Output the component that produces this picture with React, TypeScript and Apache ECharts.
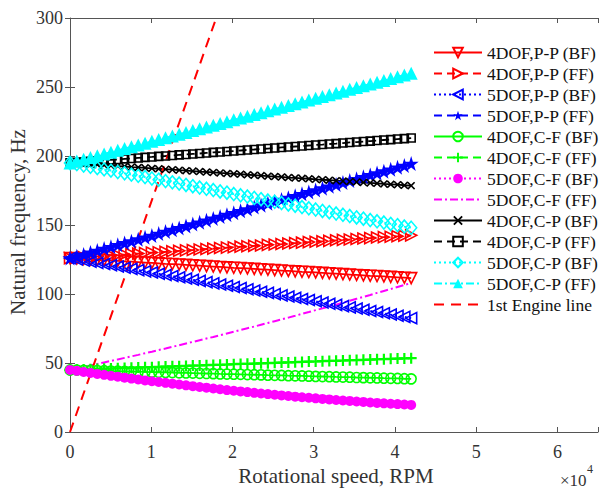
import React, { useEffect, useRef } from "react";
import * as echarts from "echarts";

// Rotational speed (RPM)
const rpm = [0, 840, 1680, 2520, 3360, 4200, 5040, 5880, 6720, 7560, 8400, 9240, 10080, 10920, 11760, 12600, 13440, 14280, 15120, 15960, 16800, 17640, 18480, 19320, 20160, 21000, 21840, 22680, 23520, 24360, 25200, 26040, 26880, 27720, 28560, 29400, 30240, 31080, 31920, 32760, 33600, 34440, 35280, 36120, 36960, 37800, 38640, 39480, 40320, 41160, 42000];

const pp4BF = [126.0, 125.7, 125.4, 125.1, 124.8, 124.6, 124.3, 124.0, 123.7, 123.4, 123.1, 122.8, 122.5, 122.2, 121.9, 121.7, 121.4, 121.1, 120.8, 120.5, 120.2, 119.9, 119.6, 119.3, 119.0, 118.8, 118.5, 118.2, 117.9, 117.6, 117.3, 117.0, 116.7, 116.4, 116.1, 115.9, 115.6, 115.3, 115.0, 114.7, 114.4, 114.1, 113.8, 113.5, 113.2, 113.0, 112.7, 112.4, 112.1, 111.8, 111.5];
const pp4FF = [126.0, 126.3, 126.7, 127.0, 127.3, 127.7, 128.0, 128.3, 128.6, 129.0, 129.3, 129.6, 130.0, 130.3, 130.6, 131.0, 131.3, 131.6, 131.9, 132.3, 132.6, 132.9, 133.3, 133.6, 133.9, 134.3, 134.6, 134.9, 135.2, 135.6, 135.9, 136.2, 136.6, 136.9, 137.2, 137.6, 137.9, 138.2, 138.5, 138.9, 139.2, 139.5, 139.9, 140.2, 140.5, 140.9, 141.2, 141.5, 141.8, 142.2, 142.5];
const pp5BF = [126.0, 125.1, 124.3, 123.4, 122.5, 121.7, 120.8, 119.9, 119.0, 118.2, 117.3, 116.4, 115.6, 114.7, 113.8, 113.0, 112.1, 111.2, 110.3, 109.5, 108.6, 107.7, 106.9, 106.0, 105.1, 104.3, 103.4, 102.5, 101.6, 100.8, 99.9, 99.0, 98.2, 97.3, 96.4, 95.6, 94.7, 93.8, 92.9, 92.1, 91.2, 90.3, 89.5, 88.6, 87.7, 86.9, 86.0, 85.1, 84.2, 83.4, 82.5];
const pp5FF = [126.0, 127.4, 128.7, 130.1, 131.5, 132.9, 134.2, 135.6, 137.0, 138.3, 139.7, 141.1, 142.4, 143.8, 145.2, 146.6, 147.9, 149.3, 150.7, 152.0, 153.4, 154.8, 156.1, 157.5, 158.9, 160.3, 161.6, 163.0, 164.4, 165.7, 167.1, 168.5, 169.8, 171.2, 172.6, 174.0, 175.3, 176.7, 178.1, 179.4, 180.8, 182.2, 183.5, 184.9, 186.3, 187.7, 189.0, 190.4, 191.8, 193.1, 194.5];
const cf4BF = [45.0, 44.9, 44.7, 44.6, 44.5, 44.4, 44.2, 44.1, 44.0, 43.8, 43.7, 43.6, 43.4, 43.3, 43.2, 43.1, 42.9, 42.8, 42.7, 42.5, 42.4, 42.3, 42.1, 42.0, 41.9, 41.8, 41.6, 41.5, 41.4, 41.2, 41.1, 41.0, 40.8, 40.7, 40.6, 40.5, 40.3, 40.2, 40.1, 39.9, 39.8, 39.7, 39.5, 39.4, 39.3, 39.2, 39.0, 38.9, 38.8, 38.6, 38.5];
const cf4FF = [45.0, 45.2, 45.3, 45.5, 45.7, 45.9, 46.0, 46.2, 46.4, 46.5, 46.7, 46.9, 47.0, 47.2, 47.4, 47.6, 47.7, 47.9, 48.1, 48.2, 48.4, 48.6, 48.7, 48.9, 49.1, 49.3, 49.4, 49.6, 49.8, 49.9, 50.1, 50.3, 50.4, 50.6, 50.8, 51.0, 51.1, 51.3, 51.5, 51.6, 51.8, 52.0, 52.1, 52.3, 52.5, 52.7, 52.8, 53.0, 53.2, 53.3, 53.5];
const cf5BF = [45.0, 44.3, 43.5, 42.8, 42.1, 41.4, 40.7, 40.1, 39.4, 38.7, 38.1, 37.4, 36.8, 36.2, 35.6, 35.0, 34.4, 33.8, 33.2, 32.6, 32.1, 31.5, 31.0, 30.4, 29.9, 29.4, 28.9, 28.4, 27.9, 27.5, 27.0, 26.5, 26.1, 25.6, 25.2, 24.8, 24.4, 24.0, 23.6, 23.2, 22.8, 22.5, 22.1, 21.8, 21.4, 21.1, 20.8, 20.5, 20.2, 19.9, 19.6];
const cf5FF = [45.0, 46.1, 47.1, 48.2, 49.3, 50.4, 51.5, 52.6, 53.7, 54.8, 55.9, 57.1, 58.2, 59.4, 60.5, 61.7, 62.9, 64.1, 65.3, 66.5, 67.7, 68.9, 70.2, 71.4, 72.6, 73.9, 75.2, 76.4, 77.7, 79.0, 80.3, 81.6, 82.9, 84.2, 85.6, 86.9, 88.3, 89.6, 91.0, 92.3, 93.7, 95.1, 96.5, 97.9, 99.3, 100.8, 102.2, 103.6, 105.1, 106.5, 108.0];
const cp4BF = [195.0, 194.7, 194.3, 194.0, 193.7, 193.4, 193.0, 192.7, 192.4, 192.0, 191.7, 191.4, 191.0, 190.7, 190.4, 190.1, 189.7, 189.4, 189.1, 188.7, 188.4, 188.1, 187.7, 187.4, 187.1, 186.8, 186.4, 186.1, 185.8, 185.4, 185.1, 184.8, 184.4, 184.1, 183.8, 183.5, 183.1, 182.8, 182.5, 182.1, 181.8, 181.5, 181.1, 180.8, 180.5, 180.2, 179.8, 179.5, 179.2, 178.8, 178.5];
const cp4FF = [195.0, 195.4, 195.7, 196.1, 196.4, 196.8, 197.2, 197.5, 197.9, 198.2, 198.6, 199.0, 199.3, 199.7, 200.0, 200.4, 200.8, 201.1, 201.5, 201.8, 202.2, 202.6, 202.9, 203.3, 203.6, 204.0, 204.4, 204.7, 205.1, 205.4, 205.8, 206.2, 206.5, 206.9, 207.2, 207.6, 208.0, 208.3, 208.7, 209.0, 209.4, 209.8, 210.1, 210.5, 210.8, 211.2, 211.6, 211.9, 212.3, 212.6, 213.0];
const cp5BF = [195.0, 194.1, 193.1, 192.2, 191.2, 190.3, 189.4, 188.4, 187.5, 186.5, 185.6, 184.7, 183.7, 182.8, 181.8, 180.9, 180.0, 179.0, 178.1, 177.1, 176.2, 175.3, 174.3, 173.4, 172.4, 171.5, 170.6, 169.6, 168.7, 167.7, 166.8, 165.9, 164.9, 164.0, 163.0, 162.1, 161.2, 160.2, 159.3, 158.3, 157.4, 156.5, 155.5, 154.6, 153.6, 152.7, 151.8, 150.8, 149.9, 148.9, 148.0];
const cp5FF = [195.0, 196.3, 197.6, 198.9, 200.2, 201.5, 202.8, 204.1, 205.4, 206.7, 208.0, 209.3, 210.6, 211.9, 213.2, 214.5, 215.8, 217.1, 218.4, 219.7, 221.0, 222.3, 223.6, 224.9, 226.2, 227.5, 228.8, 230.1, 231.4, 232.7, 234.0, 235.3, 236.6, 237.9, 239.2, 240.5, 241.8, 243.1, 244.4, 245.7, 247.0, 248.3, 249.6, 250.9, 252.2, 253.5, 254.8, 256.1, 257.4, 258.7, 260.0];

// 1st engine order line: f = RPM / 60
const engineRpm = [0, 18000];
const engineHz = [0, 300];

const names = ["4DOF,P-P (BF)", "4DOF,P-P (FF)", "5DOF,P-P (BF)", "5DOF,P-P (FF)", "4DOF,C-F (BF)", "4DOF,C-F (FF)", "5DOF,C-F (BF)", "5DOF,C-F (FF)", "4DOF,C-P (BF)", "4DOF,C-P (FF)", "5DOF,C-P (BF)", "5DOF,C-P (FF)", "1st Engine line"];

const FONT = "'Times New Roman', 'Liberation Serif', serif";
const RED = "#ff0000", BLUE = "#0000ff", GREEN = "#00ff00", MAG = "#ff00ff", BLACK = "#000000", CYAN = "#00ffff";
const DASH = [8, 5], DOT = [2, 3], DASHDOT = [8, 3, 2, 3];
const STAR = "path://M12,0L14.8,8.6L24,8.6L16.6,14L19.4,22.8L12,17.4L4.6,22.8L7.4,14L0,8.6L9.2,8.6Z";
const PLUS = "path://M4,0h2v4h4v2h-4v4h-2v-4h-4v-2h4z";
const CROSS = "path://M1.4,0L5,3.6L8.6,0L10,1.4L6.4,5L10,8.6L8.6,10L5,6.4L1.4,10L0,8.6L3.6,5L0,1.4Z";
const CLEAR = "rgba(0,0,0,0)";

function pairs(xs: number[], ys: number[]) {
  return xs.map((x, i) => [x, ys[i]]);
}

function mk(name: string, xs: number[], ys: number[], color: string, dash: any, symbol: string, size: any, hollow: boolean, rotate = 0, width = 1.8) {
  const noMark = symbol === "none";
  return {
    name,
    type: "line",
    data: pairs(xs, ys),
    symbol,
    symbolSize: size,
    symbolRotate: rotate,
    showSymbol: !noMark,
    lineStyle: { color, width, type: dash },
    itemStyle: noMark
      ? { color: CLEAR, borderWidth: 0 }
      : hollow
      ? { color: CLEAR, borderColor: color, borderWidth: 1.6 }
      : { color, borderWidth: 0 },
    emphasis: { disabled: true },
    silent: true,
  };
}

export default function App() {
  const ref = useRef<HTMLDivElement>(null);
  useEffect(() => {
    document.body.style.margin = "0";
    const chart = echarts.init(ref.current!, null, { renderer: "svg" });
    const axisColor = "#555555";
    const xCommon = {
      type: "value",
      min: 0,
      max: 65000,
      interval: 10000,
      splitLine: { show: false },
      axisLine: { show: true, onZero: false, lineStyle: { color: axisColor, width: 1 } },
      axisTick: { show: true, inside: true, length: 5, lineStyle: { color: axisColor } },
    };
    const yCommon = {
      type: "value",
      min: 0,
      max: 300,
      interval: 50,
      splitLine: { show: false },
      axisTick: { show: true, inside: true, length: 5, lineStyle: { color: axisColor } },
    };
    const option: any = {
      animation: false,
      backgroundColor: "#ffffff",
      grid: { left: 70, top: 18, right: 0, bottom: 59, containLabel: false },
      xAxis: [
        {
          ...xCommon,
          position: "bottom",
          axisLabel: {
            color: "#333333",
            fontFamily: FONT,
            fontSize: 18,
            margin: 11,
            formatter: (v: number) => (v % 10000 === 0 ? String(v / 10000) : ""),
          },
        },
        { ...xCommon, position: "top", axisLabel: { show: false } },
      ],
      yAxis: [
        {
          ...yCommon,
          position: "left",
          axisLine: { show: true, lineStyle: { color: axisColor, width: 1 } },
          axisLabel: { color: "#333333", fontFamily: FONT, fontSize: 18, margin: 7 },
        },
        {
          ...yCommon,
          position: "right",
          axisLine: { show: false },
          axisLabel: { show: false },
        },
      ],
      legend: {
        orient: "vertical",
        left: 428,
        top: 37,
        itemWidth: 48,
        itemHeight: 12,
        itemGap: 0,
        selectedMode: false,
        data: names,
        textStyle: { color: "#111111", fontFamily: FONT, fontSize: 17.5, lineHeight: 21 },
      },
      graphic: [
        {
          type: "text",
          x: 18,
          y: 222,
          rotation: Math.PI / 2,
          style: { text: "Natural frequency, Hz", font: `21px ${FONT}`, fill: "#333333", textAlign: "center", textVerticalAlign: "middle" },
        },
        {
          type: "text",
          x: 336,
          y: 476,
          style: { text: "Rotational speed, RPM", font: `21px ${FONT}`, fill: "#333333", textAlign: "center", textVerticalAlign: "middle" },
        },
        {
          type: "text",
          x: 560,
          y: 480,
          style: { text: "×10", font: `17px ${FONT}`, fill: "#333333", textAlign: "left", textVerticalAlign: "middle" },
        },
        {
          type: "text",
          x: 587,
          y: 469,
          style: { text: "4", font: `12px ${FONT}`, fill: "#333333", textAlign: "left", textVerticalAlign: "middle" },
        },
      ],
      series: [
        mk(names[0], rpm, pp4BF, RED, "solid", "triangle", 11, true, 180),
        mk(names[1], rpm, pp4FF, RED, DASH, "triangle", 11, true, -90),
        mk(names[2], rpm, pp5BF, BLUE, DOT, "triangle", 11, true, 90),
        mk(names[3], rpm, pp5FF, BLUE, DASH, STAR, 15, false),
        mk(names[4], rpm, cf4BF, GREEN, "solid", "circle", 10, true),
        mk(names[5], rpm, cf4FF, GREEN, DASH, PLUS, 11, false),
        mk(names[6], rpm, cf5BF, MAG, DOT, "circle", 10, false),
        mk(names[7], rpm, cf5FF, MAG, DASHDOT, "none", 0, false, 0, 2),
        mk(names[8], rpm, cp4BF, BLACK, "solid", CROSS, 8, false),
        mk(names[9], rpm, cp4FF, BLACK, DASH, "rect", 8, true),
        mk(names[10], rpm, cp5BF, CYAN, DOT, "diamond", [11, 13], true),
        mk(names[11], rpm, cp5FF, CYAN, DASHDOT, "triangle", 13, false),
        mk(names[12], engineRpm, engineHz, RED, [10, 7], "none", 0, false, 0, 2),
      ],
    };
    chart.setOption(option);
    return () => chart.dispose();
  }, []);
  return <div ref={ref} style={{ position: "absolute", left: 0, top: 0, width: 601, height: 491 }} />;
}
